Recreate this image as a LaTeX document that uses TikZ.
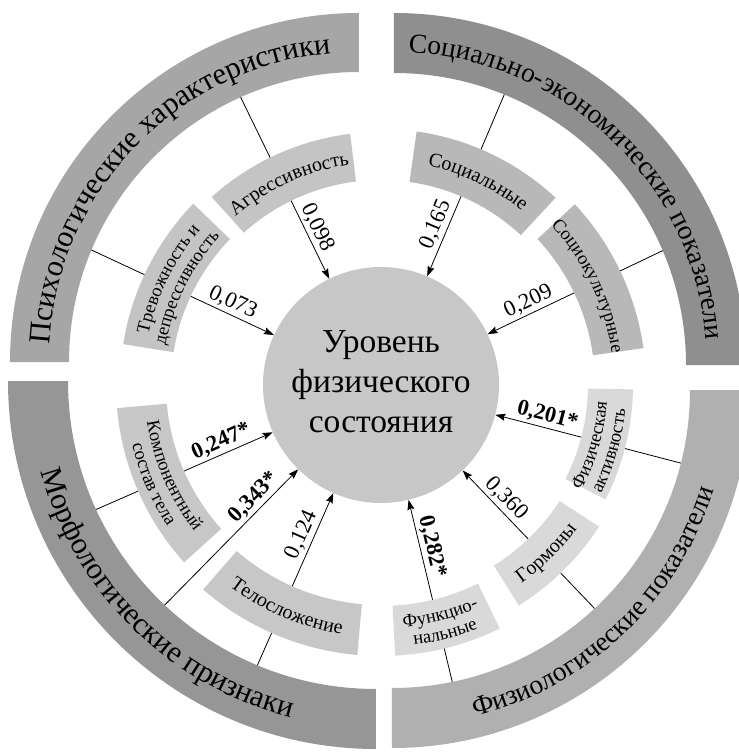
\documentclass[tikz,border=0pt]{standalone}
\usepackage{fontspec}
\setmainfont{Liberation Serif}
\usetikzlibrary{decorations.text,arrows.meta}
\definecolor{outTL}{gray}{0.65}
\definecolor{outTR}{gray}{0.56}
\definecolor{outBL}{gray}{0.59}
\definecolor{outBR}{gray}{0.69}
\definecolor{inTL}{gray}{0.77}
\definecolor{inTR}{gray}{0.72}
\definecolor{inBL}{gray}{0.78}
\definecolor{inBR}{gray}{0.85}
\definecolor{corefill}{gray}{0.78}
\newcommand\fOut{\fontsize{30.5}{30.5}\selectfont}
\newcommand\fOutS{\fontsize{27.5}{27.5}\selectfont}
\newcommand\fIn{\fontsize{20}{20}\selectfont}
\newcommand\fInS{\fontsize{18.5}{18.5}\selectfont}
% ring segment: color, angle1, angle2, r_in, r_out
\newcommand\ringseg[5]{\fill[#1] (#2:#4) arc[start angle=#2,end angle=#3,radius=#4] -- (#3:#5) arc[start angle=#3,end angle=#2,radius=#5] -- cycle;}
% text along arc: radius, start angle, end angle, text
\newcommand\arctxt[4]{\path[decorate,decoration={text along path,text align=center,text={#4}}] (#2:#1) arc[start angle=#2,end angle=#3,radius=#1];}
\tikzset{
  conn/.style={line width=0.8pt,-{Stealth[length=10pt,width=7pt,inset=1.5pt]}},
  lbl/.style={sloped,above,inner sep=2.5pt,font=\fontsize{22.5}{22.5}\selectfont},
}
\begin{document}
\begin{tikzpicture}[x=1pt,y=1pt]
\useasboundingbox (-381,-368) rectangle (358,385);
\fill[white] (-381,-368) rectangle (358,385);
\clip (-381,-368) rectangle (358,385);

% centre
\node[circle,fill=corefill,minimum size=236pt,inner sep=0pt] (core) at (0,0) {};
\node[align=center,font=\fontsize{33.5}{40}\selectfont] (title) at (0,3) {Уровень\\физического\\состояния};

% connectors
\coordinate (s1) at (116:330);
\coordinate (s2) at (155:330);
\coordinate (s3) at (67:330);
\coordinate (s4) at (25.5:330);
\coordinate (s5) at (345.4:330);
\coordinate (s6) at (313.7:330);
\coordinate (s7) at (283.5:330);
\coordinate (s8) at (246.2:330);
\coordinate (s9) at (225.5:330);
\coordinate (s10) at (203.6:330);
\draw[conn] (s1) -- (core) node[lbl,pos=0.76] (n1) {0,098};
\draw[conn] (s2) -- (core) node[lbl,pos=0.76] (n2) {0,073};
\draw[conn] (s3) -- (core) node[lbl,pos=0.76] (n3) {0,165};
\draw[conn] (s4) -- (core) node[lbl,pos=0.76] (n4) {0,209};
\draw[conn] (s5) -- (core) node[lbl,pos=0.76] (n5) {\textbf{0,201*}};
\draw[conn] (s6) -- (core) node[lbl,pos=0.76] (n6) {0,360};
\draw[conn] (s7) -- (core) node[lbl,pos=0.76] (n7) {\textbf{0,282*}};
\draw[conn] (s8) -- (core) node[lbl,pos=0.76] (n8) {0,124};
\draw[conn] (s9) -- (core) node[lbl,pos=0.76] (n9) {\textbf{0,343*}};
\draw[conn] (s10) -- (core) node[lbl,pos=0.76] (n10) {\textbf{0,247*}};

% outer bands
\begin{scope}[shift={(-22,23)}]
  \ringseg{outTL}{90}{180}{290}{349}
  \arctxt{310}{181}{91}{|\fOut|Психологические характеристики}
\end{scope}
\begin{scope}[shift={(13,20)}]
  \ringseg{outTR}{0}{90}{292}{352}
  \arctxt{313}{91}{1}{|\fOutS|Социально-экономические показатели}
\end{scope}
\begin{scope}[shift={(-5,4)}]
  \ringseg{outBL}{180}{270}{308}{368}
  \arctxt{347}{180.5}{270.5}{|\fOut|Морфологические признаки}
\end{scope}
\begin{scope}[shift={(11,-5)}]
  \ringseg{outBR}{270}{360}{298}{358}
  \arctxt{337}{268.5}{358.5}{|\fOutS|Физиологические показатели}
\end{scope}

% inner segments
\ringseg{inTL}{97}{132}{205}{253}
\arctxt{222.5}{144.5}{84.5}{|\fIn|Агрессивность}
\ringseg{inTL}{136}{171}{210}{261}
\arctxt{238}{183.5}{123.5}{|\fInS|Тревожность и}
\arctxt{219}{183.5}{123.5}{|\fInS|депрессивность}

\ringseg{inTR}{47}{82}{205}{256}
\arctxt{224}{94.5}{34.5}{|\fIn|Социальные}
\ringseg{inTR}{8}{43}{214}{265}
\arctxt{233}{55.5}{-4.5}{|\fInS|Социокультурные}

\ringseg{inBL}{185}{222}{215}{265}
\arctxt{237}{173.5}{233.5}{|\fInS|Компонентный}
\arctxt{256}{173.5}{233.5}{|\fInS|состав тела}
\ringseg{inBL}{229}{265}{220}{271}
\arctxt{252}{217}{277}{|\fIn|Телосложение}

\ringseg{inBR}{273}{296}{221}{271}
\arctxt{243}{254.5}{314.5}{|\fInS|Функцио-}
\arctxt{262}{254.5}{314.5}{|\fInS|нальные}
\ringseg{inBR}{302}{327}{213}{260}
\arctxt{243}{284.5}{344.5}{|\fIn|Гормоны}
\ringseg{inBR}{333}{359}{207}{252}
\arctxt{226.5}{314}{374}{|\fInS|Физическая}
\arctxt{245.5}{314}{374}{|\fInS|активность}
\end{tikzpicture}
\end{document}
